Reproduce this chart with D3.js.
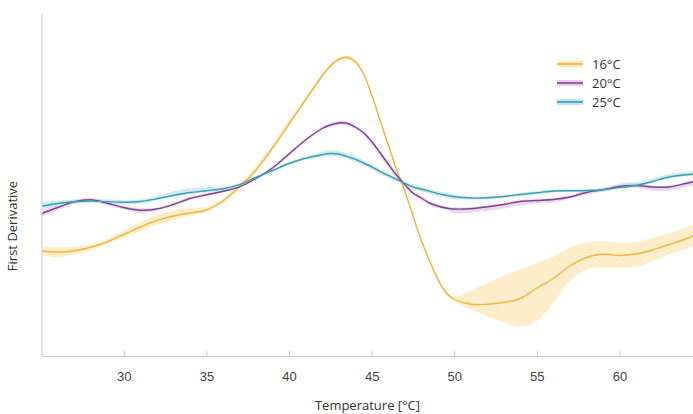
<!DOCTYPE html>
<html>
<head>
<meta charset="utf-8">
<script src="https://cdn.jsdelivr.net/npm/d3@7"></script>
<style>
  body { margin: 0; background: #fff; }
  svg { display: block; font-family: "Open Sans", sans-serif; }
  .axis path, .axis line { stroke: #c9c9c9; }
  .axis text { fill: #444; font-size: 13px; }
</style>
</head>
<body>
<svg id="chart" width="693" height="414"></svg>
<script>
const chartSize = { width: 693, height: 414 };
const margin = { left: 42, right: 0, top: 14, bottom: 58 };
const width = chartSize.width - margin.left - margin.right;
const height = chartSize.height - margin.top - margin.bottom;

// temperature grid [°C]
const temps = [25.05, 26, 27, 28, 29, 30, 31, 32, 33, 34, 35, 36, 37, 38, 39, 40, 41, 42, 42.5, 43, 43.5, 44, 44.5,
  45, 45.5, 46, 46.5, 47, 47.5, 48, 48.5, 49, 49.5, 50, 51, 52, 53, 54, 55, 56, 57, 58, 59, 60, 61, 62, 63, 64, 64.45];

// first derivative (arbitrary units)
const d16 = [10.50, 10.40, 10.52, 10.87, 11.42, 12.15, 12.90, 13.53, 14.00, 14.30, 14.60, 15.50, 16.90, 18.60, 20.80,
  23.20, 25.60, 28.00, 29.00, 29.66, 29.87, 29.45, 28.25, 26.15, 23.60, 21.17, 18.70, 16.53, 14.05, 11.60, 9.55, 7.70,
  6.35, 5.70, 5.17, 5.18, 5.35, 5.75, 6.80, 7.75, 9.00, 9.85, 10.17, 10.05, 10.20, 10.60, 11.15, 11.70, 12.00];
const d20 = [14.25, 14.85, 15.42, 15.62, 15.27, 14.85, 14.58, 14.70, 15.15, 15.75, 16.12, 16.47, 16.92, 17.75, 18.80,
  20.20, 21.60, 22.75, 23.10, 23.30, 23.28, 22.90, 22.35, 21.45, 20.35, 19.20, 18.10, 17.15, 16.30, 15.80, 15.30, 15.00,
  14.80, 14.70, 14.73, 14.92, 15.15, 15.45, 15.55, 15.65, 15.90, 16.35, 16.62, 16.95, 17.05, 16.90, 16.90, 17.25, 17.43];
const d25 = [15.00, 15.25, 15.43, 15.50, 15.44, 15.38, 15.45, 15.72, 16.07, 16.35, 16.53, 16.72, 17.13, 17.85, 18.55,
  19.25, 19.77, 20.13, 20.25, 20.20, 19.96, 19.68, 19.30, 18.92, 18.45, 18.06, 17.67, 17.27, 16.91, 16.70, 16.48, 16.24,
  16.08, 15.93, 15.80, 15.82, 15.95, 16.15, 16.32, 16.50, 16.53, 16.54, 16.62, 16.86, 17.05, 17.45, 17.90, 18.12, 18.18];

// spread above / below the mean
const up16 = [0.5, 0.5, 0.4, 0.3, 0.3, 0.4, 0.5, 0.6, 0.6, 0.5, 0.3, 0.25, 0.3, 0.4, 0.4, 0.4, 0.3, 0.2, 0.2, 0.2, 0.2,
  0.2, 0.15, 0.15, 0.15, 0.15, 0.15, 0.15, 0.15, 0.15, 0.15, 0.15, 0.15, 0.2, 1.4, 2.1, 2.7, 2.9, 2.5, 2.2, 1.8, 1.5, 1.3,
  1.3, 1.2, 1.2, 1.1, 1.1, 1.1];
const lo16 = [0.5, 0.5, 0.4, 0.3, 0.25, 0.3, 0.4, 0.4, 0.4, 0.3, 0.2, 0.2, 0.2, 0.2, 0.2, 0.2, 0.15, 0.15, 0.2, 0.2, 0.2,
  0.2, 0.15, 0.15, 0.15, 0.15, 0.15, 0.15, 0.15, 0.15, 0.15, 0.15, 0.2, 0.25, 0.5, 1.2, 2.0, 2.8, 3.3, 2.4, 1.5, 1.2, 1.3,
  1.2, 1.3, 1.1, 1.0, 1.0, 1.0];
const up20 = [0.3, 0.3, 0.2, 0.2, 0.2, 0.2, 0.2, 0.15, 0.15, 0.15, 0.15, 0.15, 0.15, 0.15, 0.15, 0.15, 0.15, 0.2, 0.2, 0.2,
  0.2, 0.2, 0.2, 0.25, 0.25, 0.25, 0.25, 0.2, 0.2, 0.2, 0.2, 0.2, 0.15, 0.15, 0.15, 0.15, 0.15, 0.15, 0.15, 0.15, 0.15,
  0.2, 0.2, 0.3, 0.3, 0.15, 0.15, 0.15, 0.15];
const lo20 = [0.3, 0.3, 0.2, 0.2, 0.2, 0.2, 0.3, 0.15, 0.15, 0.15, 0.15, 0.15, 0.15, 0.15, 0.15, 0.15, 0.15, 0.2, 0.2, 0.2,
  0.2, 0.2, 0.3, 0.35, 0.35, 0.35, 0.35, 0.2, 0.2, 0.2, 0.2, 0.2, 0.2, 0.4, 0.4, 0.4, 0.4, 0.4, 0.3, 0.3, 0.15, 0.2, 0.2,
  0.2, 0.2, 0.35, 0.35, 0.35, 0.35];
const up25 = [0.3, 0.3, 0.2, 0.2, 0.2, 0.2, 0.2, 0.25, 0.4, 0.4, 0.4, 0.15, 0.15, 0.15, 0.15, 0.15, 0.15, 0.3, 0.3, 0.3,
  0.3, 0.3, 0.25, 0.25, 0.25, 0.25, 0.15, 0.15, 0.25, 0.25, 0.25, 0.25, 0.25, 0.25, 0.15, 0.15, 0.15, 0.15, 0.15, 0.15,
  0.15, 0.15, 0.15, 0.3, 0.3, 0.3, 0.3, 0.3, 0.3];
const lo25 = [0.3, 0.3, 0.2, 0.2, 0.2, 0.2, 0.2, 0.15, 0.15, 0.15, 0.15, 0.15, 0.15, 0.15, 0.15, 0.15, 0.15, 0.25, 0.25,
  0.25, 0.25, 0.25, 0.25, 0.25, 0.25, 0.25, 0.15, 0.15, 0.25, 0.25, 0.25, 0.25, 0.25, 0.25, 0.15, 0.15, 0.15, 0.15, 0.15,
  0.15, 0.15, 0.15, 0.15, 0.15, 0.15, 0.15, 0.15, 0.15, 0.15];

const labels = ['16°C', '20°C', '25°C'];
const lineColors = ['#f0b53a', '#80448f', '#3b9fb3'];
const bandColors = ['#fde8bd', '#e6cdea', '#c0e5ee'];
const xTicks = [30, 35, 40, 45, 50, 55, 60];

const series = [
  { label: labels[0], mean: d16, up: up16, lo: lo16 },
  { label: labels[1], mean: d20, up: up20, lo: lo20 },
  { label: labels[2], mean: d25, up: up25, lo: lo25 },
];

const svg = d3.select('#chart')
  .attr('width', chartSize.width)
  .attr('height', chartSize.height);

const g = svg.append('g')
  .attr('transform', `translate(${margin.left},${margin.top})`);

const x = d3.scaleLinear()
  .domain([25.05, 64.45])
  .range([0, width]);

const y = d3.scaleLinear()
  .domain([0, 34.2])
  .range([height, 0]);

const smooth = d3.curveCatmullRom.alpha(0.5);

const band = (s) => d3.area()
  .x((d, i) => x(temps[i]))
  .y0((d, i) => y(s.mean[i] - s.lo[i]))
  .y1((d, i) => y(s.mean[i] + s.up[i]))
  .curve(smooth);

const line = (s) => d3.line()
  .x((d, i) => x(temps[i]))
  .y((d, i) => y(s.mean[i]))
  .curve(smooth);

series.forEach((s, k) => {
  g.append('path')
    .attr('d', band(s)(temps))
    .attr('fill', bandColors[k])
    .attr('fill-opacity', 0.8);
});

series.forEach((s, k) => {
  g.append('path')
    .attr('d', line(s)(temps))
    .attr('fill', 'none')
    .attr('stroke', lineColors[k])
    .attr('stroke-width', 1.4);
});

// axes
const xAxis = d3.axisBottom(x)
  .tickValues(xTicks)
  .tickSizeInner(-5)
  .tickSizeOuter(0)
  .tickPadding(16);

g.append('g')
  .attr('class', 'axis x-axis')
  .attr('transform', `translate(0,${height})`)
  .call(xAxis);

g.append('line')
  .attr('class', 'y-axis')
  .attr('x1', 0).attr('x2', 0)
  .attr('y1', 0).attr('y2', height)
  .attr('stroke', '#c9c9c9');

g.append('text')
  .attr('x', width / 2)
  .attr('y', height + 54)
  .attr('text-anchor', 'middle')
  .attr('fill', '#333')
  .style('font-size', '13px')
  .text('Temperature [°C]');

svg.append('text')
  .attr('transform', 'translate(17,226) rotate(-90)')
  .attr('text-anchor', 'middle')
  .attr('fill', '#333')
  .style('font-size', '13px')
  .text('First Derivative');

// legend
const legend = svg.append('g')
  .attr('transform', 'translate(557,64)');

labels.forEach((lab, k) => {
  const row = legend.append('g').attr('transform', `translate(0,${k * 19})`);
  row.append('line')
    .attr('x1', 0).attr('x2', 26)
    .attr('stroke', bandColors[k])
    .attr('stroke-width', 6);
  row.append('line')
    .attr('x1', 0).attr('x2', 26)
    .attr('stroke', lineColors[k])
    .attr('stroke-width', 1.6);
  row.append('text')
    .attr('x', 35)
    .attr('dy', '0.35em')
    .attr('fill', '#333')
    .style('font-size', '13px')
    .text(lab);
});
</script>
</body>
</html>
